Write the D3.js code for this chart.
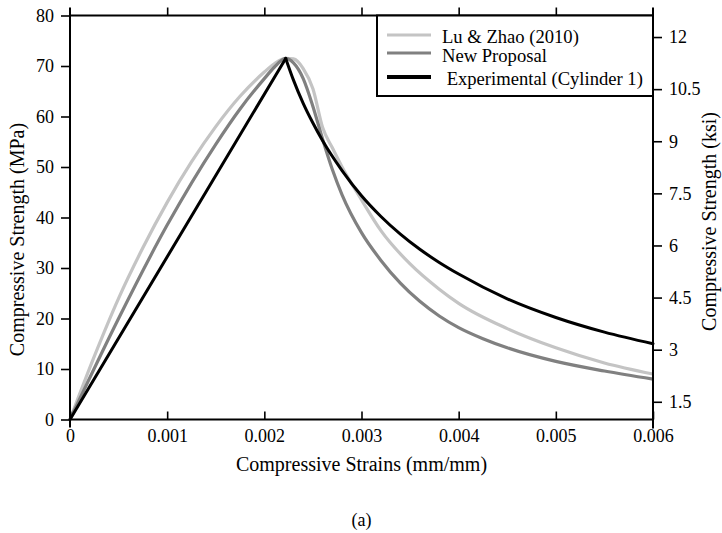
<!DOCTYPE html>
<html>
<head>
<meta charset="utf-8">
<script src="https://cdn.jsdelivr.net/npm/d3@7"></script>
<style>
  html, body { margin: 0; padding: 0; background: #fff; }
  svg { display: block; }
  text { font-family: "Liberation Serif", "Times New Roman", "DejaVu Serif", serif; fill: #000; }
</style>
</head>
<body>
<svg id="chart" width="722" height="533"></svg>
<script>
// ---------- data ----------
const xTicks = [0, 0.001, 0.002, 0.003, 0.004, 0.005, 0.006];
const yTicks = [0, 10, 20, 30, 40, 50, 60, 70, 80];
const ksiTicks = [1.5, 3, 4.5, 6, 7.5, 9, 10.5, 12];

const seriesNames = ["Lu & Zhao (2010)", "New Proposal", " Experimental (Cylinder 1)"];

const luZhao = [
  [0, 0], [0.00025, 12.5], [0.0005, 24], [0.00075, 34], [0.001, 43], [0.00125, 51],
  [0.0015, 58], [0.00175, 64], [0.002, 68.8], [0.0021, 70.4], [0.00222, 71.5],
  [0.0023, 71.4], [0.0024, 69.5], [0.0025, 65.5], [0.0026, 57.8], [0.0027, 53.8],
  [0.0028, 50], [0.003, 43.5], [0.0032, 37.4], [0.0035, 30.8], [0.0038, 25.8],
  [0.004, 23], [0.0045, 18], [0.005, 14.2], [0.0055, 11.2], [0.006, 9]
];
const newProposal = [
  [0, 0], [0.0005, 20], [0.001, 38.5], [0.0015, 54.5], [0.00175, 61.5], [0.002, 67.5],
  [0.0021, 69.7], [0.00222, 71.5], [0.0023, 70.6], [0.0024, 67.5], [0.0025, 62],
  [0.0026, 55.5], [0.0027, 49.5], [0.0028, 44.5], [0.003, 37], [0.0032, 31.5],
  [0.0034, 27], [0.0036, 23.4], [0.0038, 20.5], [0.004, 18.2], [0.00425, 16],
  [0.0045, 14.2], [0.005, 11.5], [0.0055, 9.6], [0.006, 8]
];
const experimentalRise = [[0, 0], [0.00222, 71.5]];
const experimentalFall = [
  [0.00222, 71.5], [0.0023, 67.2], [0.0024, 62.6], [0.0025, 58.7], [0.0026, 55.2],
  [0.0028, 49.3], [0.003, 44.3], [0.0032, 40.2], [0.0034, 36.7], [0.0036, 33.7],
  [0.0038, 31.1], [0.004, 28.8], [0.0045, 23.9], [0.005, 20.2], [0.0055, 17.3], [0.006, 15]
];

// ---------- layout ----------
const svg = d3.select("#chart");
const L = 70, R = 653, T = 15.5, B = 419.5;
const FONT = '"Liberation Serif", "Times New Roman", "DejaVu Serif", serif';

const x = d3.scaleLinear().domain([0, 0.006]).range([L, R]);
const y = d3.scaleLinear().domain([0, 80]).range([B, T]);
const yR = d3.scaleLinear().domain([0.99, 12.62]).range([B, T]);

const colLu = "#c4c4c4", colNew = "#808080", colExp = "#000";

// curves
const lineSmooth = d3.line().x(d => x(d[0])).y(d => y(d[1])).curve(d3.curveMonotoneX);
const lineStraight = d3.line().x(d => x(d[0])).y(d => y(d[1]));

const g = svg.append("g");
g.append("path").attr("d", lineSmooth(luZhao)).attr("fill", "none")
  .attr("stroke", colLu).attr("stroke-width", 3.2).attr("stroke-linejoin", "round");
g.append("path").attr("d", lineSmooth(newProposal)).attr("fill", "none")
  .attr("stroke", colNew).attr("stroke-width", 3.2).attr("stroke-linejoin", "round");
g.append("path").attr("d", lineStraight(experimentalRise)).attr("fill", "none")
  .attr("stroke", colExp).attr("stroke-width", 3).attr("stroke-linecap", "round");
g.append("path").attr("d", lineSmooth(experimentalFall)).attr("fill", "none")
  .attr("stroke", colExp).attr("stroke-width", 3).attr("stroke-linecap", "round");

// axes
const fs = 18;
const axLeft = svg.append("g").attr("transform", `translate(${L},0)`)
  .call(d3.axisLeft(y).tickValues(yTicks).tickSize(9).tickPadding(7).tickFormat(d3.format("d")));
const axBottom = svg.append("g").attr("transform", `translate(0,${B})`)
  .call(d3.axisBottom(x).tickValues(xTicks).tickSizeInner(-8).tickSizeOuter(0).tickPadding(10)
    .tickFormat(d => d === 0 ? "0" : d3.format(".3f")(d)));
const axTop = svg.append("g").attr("transform", `translate(0,${T})`)
  .call(d3.axisTop(x).tickValues(xTicks.slice(1, -1)).tickSize(8).tickFormat(""));
const axRight = svg.append("g").attr("transform", `translate(${R},0)`)
  .call(d3.axisRight(yR).tickValues(ksiTicks).tickSize(9).tickPadding(7).tickFormat(d3.format("~g")));

[axLeft, axBottom, axTop, axRight].forEach(a => {
  a.attr("font-family", FONT);
  a.select(".domain").remove();
  a.selectAll(".tick line").attr("stroke", "#000").attr("stroke-width", 1.6);
  a.selectAll("text").attr("font-size", fs).attr("font-family", FONT).attr("fill", "#000");
});
axBottom.selectAll("text").attr("dy", "0.71em");

// frame lines
const frame = svg.append("g").attr("stroke", "#000").attr("stroke-width", 2);
frame.append("line").attr("x1", L).attr("x2", R).attr("y1", T).attr("y2", T);
frame.append("line").attr("x1", L).attr("x2", R).attr("y1", B).attr("y2", B);
frame.append("line").attr("x1", L).attr("x2", L).attr("y1", T - 8).attr("y2", B + 8);
frame.append("line").attr("x1", R).attr("x2", R).attr("y1", T - 8).attr("y2", B + 9);

// legend
const lg = svg.append("g");
lg.append("rect").attr("x", 377).attr("y", T).attr("width", R - 377).attr("height", 96 - T)
  .attr("fill", "#fff").attr("stroke", "#000").attr("stroke-width", 2);
const legendRows = [
  { name: seriesNames[0], color: colLu, w: 3, ly: 35, ty: 43, tx: 442 },
  { name: seriesNames[1], color: colNew, w: 3, ly: 53, ty: 62, tx: 442 },
  { name: seriesNames[2], color: colExp, w: 4, ly: 77, ty: 85, tx: 442 }
];
legendRows.forEach(r => {
  lg.append("line").attr("x1", 387).attr("x2", 431).attr("y1", r.ly).attr("y2", r.ly)
    .attr("stroke", r.color).attr("stroke-width", r.w);
  lg.append("text").attr("x", r.tx).attr("y", r.ty).attr("font-size", 18.6).attr("font-family", FONT)
    .attr("xml:space", "preserve").style("white-space", "pre").text(r.name);
});

// axis titles
svg.append("text").attr("transform", `translate(24,${(T + B) / 2 + 22}) rotate(-90)`)
  .attr("text-anchor", "middle").attr("font-size", 20).attr("font-family", FONT).text("Compressive Strength (MPa)");
svg.append("text").attr("transform", `translate(716,${(T + B) / 2 + 4}) rotate(-90)`)
  .attr("text-anchor", "middle").attr("font-size", 20).attr("font-family", FONT).text("Compressive Strength (ksi)");
svg.append("text").attr("x", (L + R) / 2).attr("y", 471)
  .attr("text-anchor", "middle").attr("font-size", 20).attr("font-family", FONT).text("Compressive Strains (mm/mm)");
svg.append("text").attr("x", (L + R) / 2).attr("y", 526)
  .attr("text-anchor", "middle").attr("font-size", 18).attr("font-family", FONT).text("(a)");
</script>
</body>
</html>
